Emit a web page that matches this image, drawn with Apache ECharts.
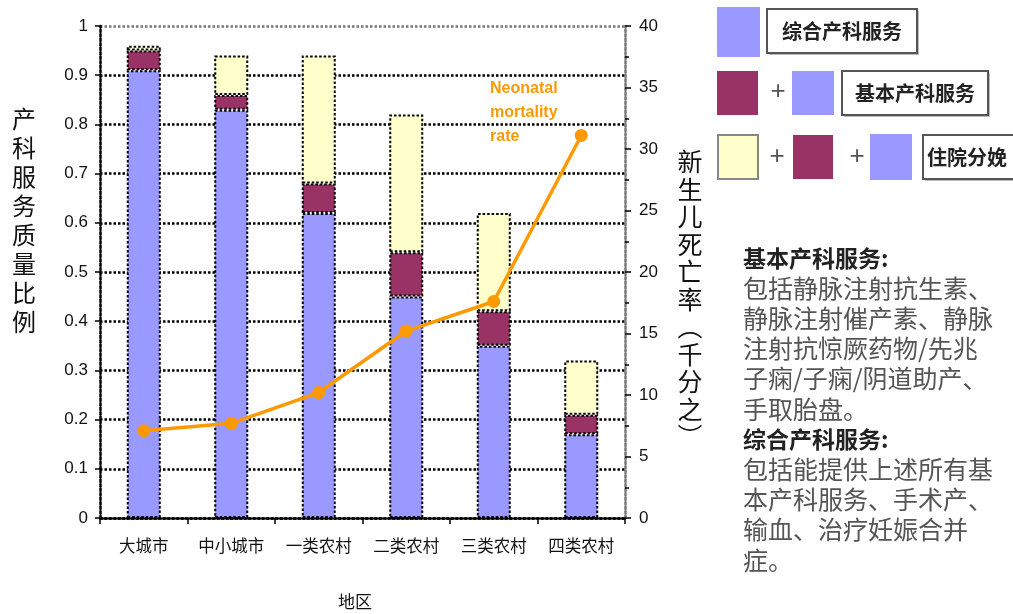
<!DOCTYPE html>
<html>
<head>
<meta charset="utf-8">
<script src="https://cdn.jsdelivr.net/npm/echarts@6/dist/echarts.min.js"></script>
<style>
  html, body { margin: 0; padding: 0; background: #fff; }
  #chart { width: 1013px; height: 614px; }
</style>
</head>
<body>
<div id="chart"></div>
<script>
// Regions (x axis)
const regions = ['大城市', '中小城市', '一类农村', '二类农村', '三类农村', '四类农村'];

// Share of deliveries by service level (stacked segments)
const comprehensiveCare = [0.91, 0.83, 0.62, 0.45, 0.35, 0.17];   // 综合产科服务
const basicCareExtra    = [0.04, 0.03, 0.06, 0.09, 0.07, 0.04];   // 基本产科服务 (beyond comprehensive)
const facilityBirthExtra = [0.01, 0.08, 0.26, 0.28, 0.20, 0.11];  // 住院分娩 (beyond basic)

// Neonatal mortality rate, per thousand
const neonatalMortality = [7.1, 7.7, 10.2, 15.2, 17.6, 31.1];

// Axis settings
const leftAxisMax = 1, leftAxisStep = 0.1;
const rightAxisMax = 40, rightAxisStep = 5;

// Text panel
const noteLines = [
  { text: '基本产科服务:', bold: true },
  { text: '包括静脉注射抗生素、' },
  { text: '静脉注射催产素、静脉' },
  { text: '注射抗惊厥药物/先兆' },
  { text: '子痫/子痫/阴道助产、' },
  { text: '手取胎盘。' },
  { text: '综合产科服务:', bold: true },
  { text: '包括能提供上述所有基' },
  { text: '本产科服务、手术产、' },
  { text: '输血、治疗妊娠合并' },
  { text: '症。' }
];

const leftAxisTitle = '产科服务质量比例';
const rightAxisTitle = '新生儿死亡率︵千分之︶';

const BLUE = '#9999FF', MAROON = '#993366', YELLOW = '#FFFFCC', ORANGE = '#FF9900';
const FONT = '"Liberation Sans", Arial, "Noto Sans CJK SC", sans-serif';
const CJK = '"Noto Sans CJK SC", sans-serif';

const chart = echarts.init(document.getElementById('chart'), null, { renderer: 'canvas' });

const dotted = [2.5, 2];
const barBorder = { borderColor: '#000', borderWidth: 2, borderType: dotted };

// gridline colours: black except the top one, which is grey
const gridColors = [];
for (let i = 0; i <= Math.round(leftAxisMax / leftAxisStep); i++) gridColors.push('#000');
gridColors[gridColors.length - 1] = '#777';

function swatch(x, y, w, h, color, stroke) {
  return {
    type: 'rect', shape: { x: x, y: y, width: w, height: h },
    style: { fill: color, stroke: stroke || 'none', lineWidth: stroke ? 2 : 0 }
  };
}
function plus(x, y) {
  return { type: 'text', x: x, y: y, style: { text: '+', fontSize: 26, fontFamily: FONT, fill: '#555', align: 'center', verticalAlign: 'middle' } };
}
function labelBox(x, y, w, h, text, textX, align) {
  return [
    { type: 'rect', shape: { x: x + 2, y: y + 2, width: w, height: h }, style: { fill: '#bbb' } },
    { type: 'rect', shape: { x: x, y: y, width: w, height: h }, style: { fill: '#fff', stroke: '#555', lineWidth: 2 } },
    { type: 'text', x: textX, y: y + h / 2, style: { text: text, fontSize: 20, fontWeight: 'bold', fontFamily: CJK, fill: '#222', align: align, verticalAlign: 'middle' } }
  ];
}

const graphics = [];
// key on the right
graphics.push(swatch(717, 7, 43, 50, BLUE));
graphics.push(...labelBox(767, 9, 150, 44, '综合产科服务', 842, 'center'));

graphics.push(swatch(717, 71, 41, 44, MAROON));
graphics.push(plus(778, 92));
graphics.push(swatch(792, 71, 42, 44, BLUE));
graphics.push(...labelBox(842, 71, 146, 44, '基本产科服务', 915, 'center'));

graphics.push(swatch(718, 135, 40, 44, YELLOW, '#888'));
graphics.push(plus(777, 157));
graphics.push(swatch(793, 135, 40, 44, MAROON));
graphics.push(plus(857, 157));
graphics.push(swatch(870, 134, 42, 46, BLUE));
graphics.push(...labelBox(923, 135, 95, 44, '住院分娩', 927, 'left'));

// explanatory notes
noteLines.forEach(function (ln, i) {
  graphics.push({
    type: 'text', x: 743, y: 258 + i * 30.2,
    style: {
      text: ln.text, fontFamily: CJK, fontSize: ln.bold ? 23 : 25,
      fontWeight: ln.bold ? 'bold' : 'normal', fill: ln.bold ? '#222' : '#555',
      verticalAlign: 'middle'
    }
  });
});

// series annotation
graphics.push({
  type: 'text', x: 490, y: 77,
  style: { text: 'Neonatal\nmortality\nrate', fontFamily: FONT, fontSize: 16, fontWeight: 'bold', fill: ORANGE, lineHeight: 24 }
});

// axis titles, stacked vertically
graphics.push({
  type: 'text', x: 24, y: 220,
  style: { text: leftAxisTitle.split('').join('\n'), fontFamily: CJK, fontSize: 24, lineHeight: 29, fill: '#111', align: 'center', verticalAlign: 'middle' }
});
graphics.push({
  type: 'text', x: 690, y: 299,
  style: { text: rightAxisTitle.split('').join('\n'), fontFamily: CJK, fontSize: 25, lineHeight: 27.5, fill: '#111', align: 'center', verticalAlign: 'middle' }
});
graphics.push({
  type: 'text', x: 355, y: 602,
  style: { text: '地区', fontFamily: CJK, fontSize: 17, fill: '#111', align: 'center', verticalAlign: 'middle' }
});

const option = {
  backgroundColor: '#fff',
  animation: false,
  grid: { left: 100, right: 388, top: 26, bottom: 96, containLabel: false },
  xAxis: {
    type: 'category',
    data: regions,
    axisLine: { lineStyle: { color: '#000', width: 2.5, type: dotted } },
    axisTick: { show: true, inside: false, length: 6, interval: 0, alignWithLabel: false, lineStyle: { color: '#000', width: 1.5 } },
    axisLabel: { color: '#111', fontSize: 16.5, fontFamily: CJK, margin: 19, interval: 0, hideOverlap: false }
  },
  yAxis: [
    {
      type: 'value', min: 0, max: leftAxisMax, interval: leftAxisStep,
      axisLine: { show: true, lineStyle: { color: '#000', width: 2.5, type: dotted } },
      axisTick: { show: true, length: 5, lineStyle: { color: '#000', width: 1.5 } },
      axisLabel: { color: '#111', fontSize: 17, fontFamily: FONT, margin: 12, formatter: function (v) { return String(+v.toFixed(1)); } },
      splitLine: { show: true, lineStyle: { color: gridColors, width: 2.5, type: dotted } }
    },
    {
      type: 'value', min: 0, max: rightAxisMax, interval: rightAxisStep, position: 'right',
      axisLine: { show: true, lineStyle: { color: '#777', width: 2.5, type: dotted } },
      axisTick: { show: true, length: 6, lineStyle: { color: '#000', width: 1.5 } },
      minorTick: { show: true, splitNumber: 2, length: 4, lineStyle: { color: '#000', width: 1.5 } },
      axisLabel: { color: '#111', fontSize: 17, fontFamily: FONT, margin: 14 },
      splitLine: { show: false }
    }
  ],
  series: [
    {
      name: '综合产科服务', type: 'bar', stack: 'care', barWidth: 34,
      data: comprehensiveCare, itemStyle: Object.assign({ color: BLUE }, barBorder)
    },
    {
      name: '基本产科服务', type: 'bar', stack: 'care', barWidth: 34,
      data: basicCareExtra, itemStyle: Object.assign({ color: MAROON }, barBorder)
    },
    {
      name: '住院分娩', type: 'bar', stack: 'care', barWidth: 34,
      data: facilityBirthExtra, itemStyle: Object.assign({ color: YELLOW }, barBorder)
    },
    {
      name: 'Neonatal mortality rate', type: 'line', yAxisIndex: 1, z: 5,
      data: neonatalMortality,
      symbol: 'circle', symbolSize: 13,
      lineStyle: { color: ORANGE, width: 3.5 },
      itemStyle: { color: ORANGE }
    }
  ],
  graphic: graphics
};

chart.setOption(option);
</script>
</body>
</html>
